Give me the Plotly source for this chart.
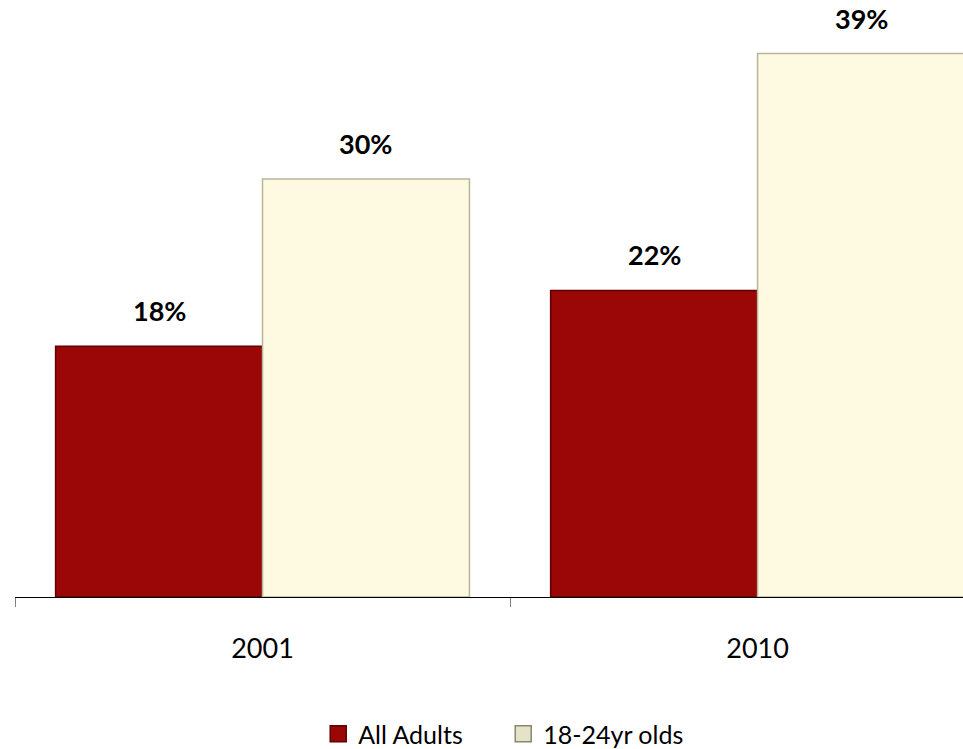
import plotly.graph_objects as go

years = ["2001", "2010"]
all_adults = [18, 22]
young_adults = [30, 39]
series_names = ["All Adults", "18-24yr olds"]

RED = "#9b0606"
CREAM = "#fef9e1"
FONT = "Lato"

fig = go.Figure()
fig.add_trace(go.Bar(
    x=years, y=all_adults, name=series_names[0], showlegend=False,
    marker=dict(color=RED, line=dict(color="#5e0202", width=1.5)),
))
fig.add_trace(go.Bar(
    x=years, y=young_adults, name=series_names[1], showlegend=False,
    marker=dict(color=CREAM, line=dict(color="#b9b59c", width=1.5)),
))

# legend entries with larger square swatches
for name, color, edge in ((series_names[0], RED, "#5e0202"),
                          (series_names[1], "#e6e2c8", "#8a8770")):
    fig.add_trace(go.Scatter(
        x=[None], y=[None], mode="markers", name=name,
        marker=dict(symbol="square", size=16, color=color,
                    line=dict(color=edge, width=1.5)),
    ))

# value labels above each bar
offset = (1 - 0.164) / 4
for vals, shift in ((all_adults, -offset), (young_adults, offset)):
    for i, v in enumerate(vals):
        fig.add_annotation(
            x=i + shift, y=v, text=f"<b>{v}%</b>", showarrow=False,
            yanchor="bottom", yshift=17,
            font=dict(family=FONT, size=27, color="#000000"),
        )

fig.update_layout(
    width=963, height=749,
    margin=dict(l=15, r=0, t=9, b=152, autoexpand=False),
    paper_bgcolor="white", plot_bgcolor="white",
    barmode="group", bargap=0.164, bargroupgap=0,
    showlegend=True,
    legend=dict(
        orientation="h", x=0.515, xanchor="center",
        yref="container", y=0.02, yanchor="middle",
        font=dict(family=FONT, size=25, color="#000000"),
        entrywidth=140, itemsizing="trace",
    ),
    xaxis=dict(
        type="category", range=[-0.5, 1.415],
        showline=True, linecolor="#000000", linewidth=1,
        ticks="outside", tickson="boundaries", ticklen=9, tickcolor="#808080",
        tickfont=dict(family=FONT, size=27, color="#000000"),
        ticklabelstandoff=28,
        showgrid=False,
    ),
    yaxis=dict(range=[0, 42.2], visible=False, showgrid=False, zeroline=False),
)

fig.write_html("out.html")
